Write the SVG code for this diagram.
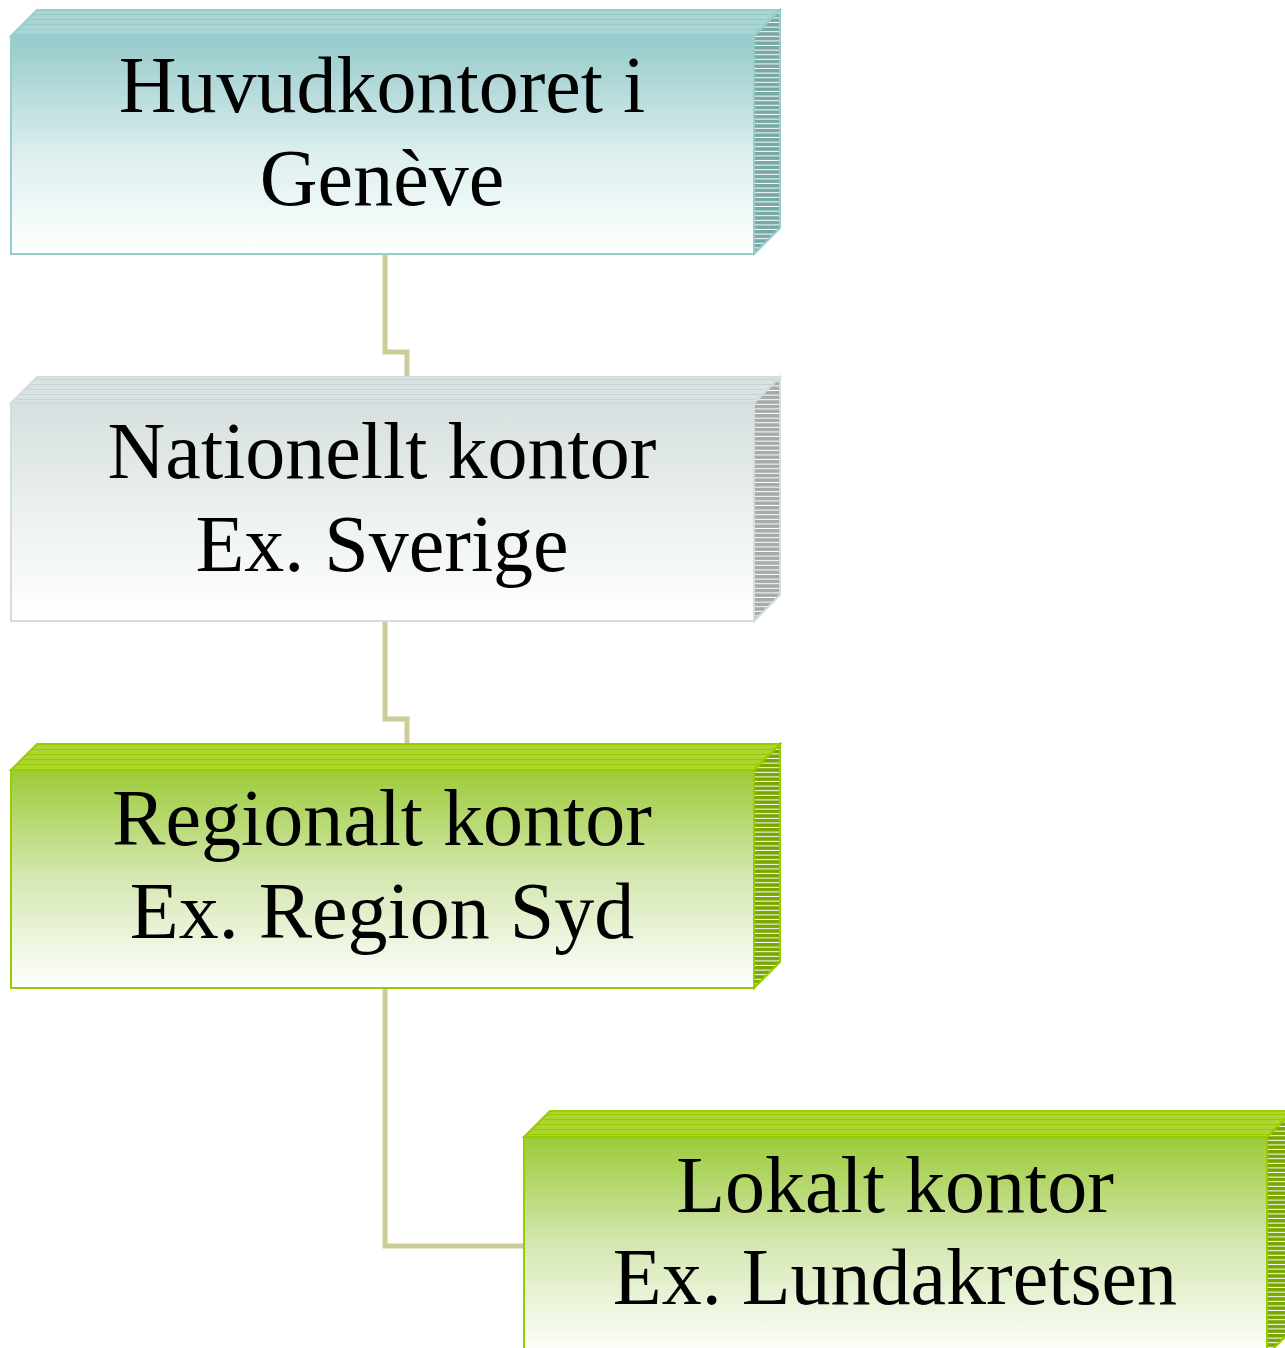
<svg xmlns="http://www.w3.org/2000/svg" width="1285" height="1348" viewBox="0 0 1285 1348">
  <defs>
    <style>
      .lbl { font-family: "Liberation Serif", "Times New Roman", serif; font-size: 80px; fill: #000; text-anchor: middle; }
      .conn { fill: none; stroke: #cccc99; stroke-width: 5; }
    </style>
    <!-- front face gradients -->
    <linearGradient id="gTeal" x1="0" y1="0" x2="0" y2="1">
      <stop offset="0" stop-color="#96caca"/>
      <stop offset="0.55" stop-color="#ddefef"/>
      <stop offset="1" stop-color="#ffffff"/>
    </linearGradient>
    <linearGradient id="gGray" x1="0" y1="0" x2="0" y2="1">
      <stop offset="0" stop-color="#d6dfdf"/>
      <stop offset="0.55" stop-color="#eef2f2"/>
      <stop offset="1" stop-color="#ffffff"/>
    </linearGradient>
    <linearGradient id="gGreen" x1="0" y1="0" x2="0" y2="1">
      <stop offset="0" stop-color="#9ccb38"/>
      <stop offset="0.5" stop-color="#d5e8b3"/>
      <stop offset="1" stop-color="#ffffff"/>
    </linearGradient>
    <!-- striped side faces -->
    <pattern id="sTeal" width="8" height="4.6" patternUnits="userSpaceOnUse">
      <rect width="8" height="4.6" fill="#77a8a3"/>
      <rect y="3.6" width="8" height="1" fill="#ffffff"/>
    </pattern>
    <pattern id="sGray" width="8" height="4.6" patternUnits="userSpaceOnUse">
      <rect width="8" height="4.6" fill="#a5abab"/>
      <rect y="3.6" width="8" height="1" fill="#ffffff"/>
    </pattern>
    <pattern id="sGreen" width="8" height="4.6" patternUnits="userSpaceOnUse">
      <rect width="8" height="4.6" fill="#7aa600"/>
      <rect y="3.6" width="8" height="1" fill="#ffffff"/>
    </pattern>
    <!-- striped top faces -->
    <pattern id="tTeal" width="8" height="5" patternUnits="userSpaceOnUse">
      <rect width="8" height="5" fill="#a9d6d4"/>
      <rect y="4" width="8" height="1" fill="#97cac8"/>
    </pattern>
    <pattern id="tGray" width="8" height="5" patternUnits="userSpaceOnUse">
      <rect width="8" height="5" fill="#dae3e3"/>
      <rect y="4" width="8" height="1" fill="#c9d5d5"/>
    </pattern>
    <pattern id="tGreen" width="8" height="5" patternUnits="userSpaceOnUse">
      <rect width="8" height="5" fill="#acd632"/>
      <rect y="4" width="8" height="1" fill="#99cc00"/>
    </pattern>
  </defs>

  <rect width="1285" height="1348" fill="#ffffff"/>

  <!-- connectors -->
  <g id="connectors">
    <polyline class="conn" points="385,254 385,352 407,352 407,378"/>
    <polyline class="conn" points="385,621 385,719 407,719 407,745"/>
    <polyline class="conn" points="385,988 385,1246 525,1246"/>
  </g>

  <!-- head office -->
  <g id="node-hq">
    <polygon points="11,36 37,10 780,10 754,36" fill="url(#tTeal)" stroke="#99cccc" stroke-width="2"/>
    <polygon points="754,36 780,10 780,228 754,254" fill="url(#sTeal)" stroke="#99cccc" stroke-width="2"/>
    <rect x="11" y="36" width="743" height="218" fill="url(#gTeal)" stroke="#99cccc" stroke-width="2"/>
    <text class="lbl" x="382" y="112">Huvudkontoret i</text>
    <text class="lbl" x="382" y="205">Genève</text>
  </g>

  <!-- national office -->
  <g id="node-national">
    <polygon points="11,403 37,377 780,377 754,403" fill="url(#tGray)" stroke="#d3dddd" stroke-width="2"/>
    <polygon points="754,403 780,377 780,595 754,621" fill="url(#sGray)" stroke="#d3dddd" stroke-width="2"/>
    <rect x="11" y="403" width="743" height="218" fill="url(#gGray)" stroke="#d3dddd" stroke-width="2"/>
    <text class="lbl" x="382" y="478">Nationellt kontor</text>
    <text class="lbl" x="382" y="571">Ex. Sverige</text>
  </g>

  <!-- regional office -->
  <g id="node-regional">
    <polygon points="11,770 37,744 780,744 754,770" fill="url(#tGreen)" stroke="#99cc00" stroke-width="2"/>
    <polygon points="754,770 780,744 780,962 754,988" fill="url(#sGreen)" stroke="#99cc00" stroke-width="2"/>
    <rect x="11" y="770" width="743" height="218" fill="url(#gGreen)" stroke="#99cc00" stroke-width="2"/>
    <text class="lbl" x="382" y="845">Regionalt kontor</text>
    <text class="lbl" x="382" y="938">Ex. Region Syd</text>
  </g>

  <!-- local office -->
  <g id="node-local">
    <polygon points="524,1137 550,1111 1293,1111 1267,1137" fill="url(#tGreen)" stroke="#99cc00" stroke-width="2"/>
    <polygon points="1267,1137 1293,1111 1293,1329 1267,1355" fill="url(#sGreen)" stroke="#99cc00" stroke-width="2"/>
    <rect x="524" y="1137" width="743" height="218" fill="url(#gGreen)" stroke="#99cc00" stroke-width="2"/>
    <text class="lbl" x="895" y="1212">Lokalt kontor</text>
    <text class="lbl" x="895" y="1304">Ex. Lundakretsen</text>
  </g>
</svg>
